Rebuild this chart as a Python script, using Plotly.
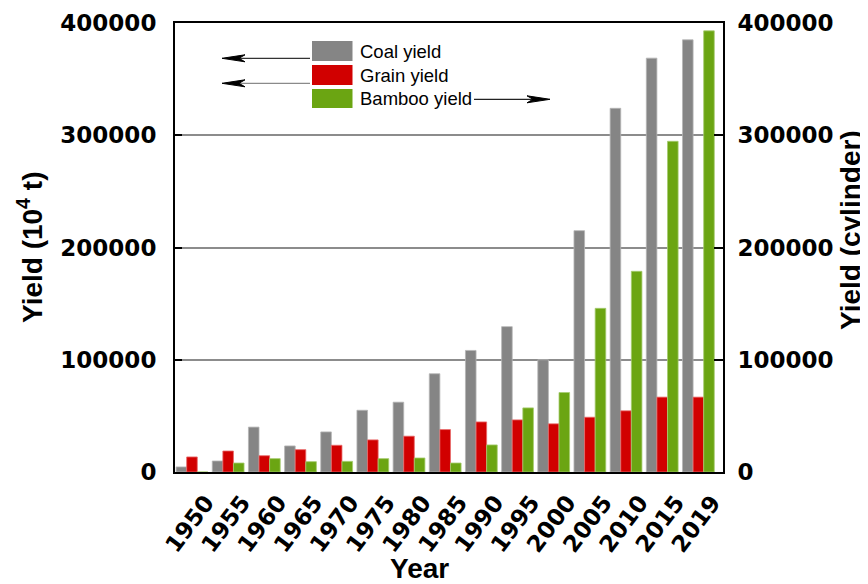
import plotly.graph_objects as go

years = ["1950", "1955", "1960", "1965", "1970", "1975", "1980", "1985",
         "1990", "1995", "2000", "2005", "2010", "2015", "2019"]
coal = [4500, 9800, 40000, 23200, 35700, 55000, 62200, 87500,
        108300, 129500, 100000, 215000, 324000, 368700, 385000]
grain = [13400, 18700, 14500, 19900, 23800, 28600, 31900, 37800,
         44600, 46400, 42900, 48800, 54500, 66700, 66700]
bamboo = [0, 8000, 11900, 9200, 9500, 11900, 12500, 8000,
          24100, 57100, 70800, 145800, 178800, 294600, 393000]
y_ticks = [0, 100000, 200000, 300000, 400000]

series_names = ["Coal yield", "Grain yield", "Bamboo yield"]
colors = ["#858585", "#d10000", "#6ba512"]
edge_colors = ["#b5b5b5", "#e86a6a", "#a6cc70"]

# page offset of the plot div (default body margin)
OX, OY = 8, 8
W, H = 868 - OX, 584 - OY
# plot area in page pixels
L, R, T, B = 175, 723, 23, 472


def px_x(p):
    return (p - L) / (R - L)


def px_y(p):
    return (B - p) / (B - T)


idx = list(range(len(years)))
bw = 0.293
offsets = [-0.44, -0.147, 0.146]

fig = go.Figure()
for name, vals, col, ecol, off, ax in zip(series_names, [coal, grain, bamboo], colors,
                                          edge_colors, offsets, ["y", "y", "y2"]):
    fig.add_trace(go.Bar(x=idx, y=vals, name=name, width=bw, offset=off,
                         marker=dict(color=col, line=dict(color=ecol, width=0.8)),
                         yaxis=ax, showlegend=False))

tickfont_y = dict(family="DejaVu Sans", size=23, color="black", weight="bold")

fig.update_layout(
    width=W, height=H,
    margin=dict(l=L - OX, r=W - (R - OX), t=T - OY, b=H - (B - OY), autoexpand=False),
    plot_bgcolor="white", paper_bgcolor="white",
    barmode="overlay",
    xaxis=dict(range=[-0.47, 14.68], tickvals=idx, ticktext=years, tickangle=-53,
               showline=True, linecolor="black", linewidth=2, mirror=True,
               ticks="", showgrid=False, zeroline=False,
               ticklabelshift=14, ticklabelstandoff=6,
               tickfont=dict(family="DejaVu Sans", size=23, color="black", weight="bold")),
    yaxis=dict(range=[0, 400000], tickvals=y_ticks, tickformat="d",
               ticks="inside", ticklen=7, tickwidth=2, tickcolor="black",
               showline=True, linecolor="black", linewidth=2,
               showgrid=True, gridcolor="#8c8c8c", gridwidth=2, zeroline=False,
               ticklabelstandoff=12, tickfont=tickfont_y),
    yaxis2=dict(range=[0, 400000], tickvals=y_ticks, tickformat="d", overlaying="y",
                side="right", ticks="inside", ticklen=9, tickwidth=2, tickcolor="black",
                showline=True, linecolor="black", linewidth=2,
                showgrid=False, zeroline=False, ticklabelstandoff=8, tickfont=tickfont_y),
)

title_font = dict(family="Liberation Sans, Arial", size=28, color="black", weight="bold")
fig.add_annotation(text="Year", x=px_x(419), y=px_y(568), xref="paper", yref="paper",
                   showarrow=False, font=title_font, xanchor="center", yanchor="middle")
fig.add_annotation(text="Yield (10<sup>4</sup> t)", x=px_x(30), y=px_y(248), xref="paper",
                   yref="paper", showarrow=False, font=title_font, textangle=-90,
                   xanchor="center", yanchor="middle")
fig.add_annotation(text="Yield (cylinder)", x=px_x(850), y=px_y(230), xref="paper",
                   yref="paper", showarrow=False, font=title_font, textangle=-90,
                   xanchor="center", yanchor="middle")

# legend
rows = [(41, 61), (65, 85), (89, 108)]
for name, col, (y0, y1) in zip(series_names, colors, rows):
    fig.add_shape(type="rect", xref="paper", yref="paper",
                  x0=px_x(312), x1=px_x(352.5), y0=px_y(y1), y1=px_y(y0),
                  fillcolor=col, line=dict(width=0))
    fig.add_annotation(text=name, x=px_x(358), y=px_y((y0 + y1) / 2), xref="paper",
                       yref="paper", showarrow=False, xanchor="left", yanchor="middle",
                       font=dict(family="Liberation Sans, Arial", size=18.5, color="black"))


def arrow(x_start, tip, y, lcolor):
    d = 1 if tip > x_start else -1
    back = tip - d * 23
    notch = tip - d * 17
    fig.add_shape(type="line", xref="paper", yref="paper",
                  x0=px_x(x_start), x1=px_x(notch), y0=px_y(y), y1=px_y(y),
                  line=dict(color=lcolor, width=1.3))
    path = (f"M {px_x(tip)},{px_y(y)} L {px_x(back)},{px_y(y - 3.5)} "
            f"L {px_x(notch)},{px_y(y)} L {px_x(back)},{px_y(y + 3.5)} Z")
    fig.add_shape(type="path", xref="paper", yref="paper", path=path,
                  fillcolor="black", line=dict(color="black", width=1))


arrow(310, 222, 58.3, "#333333")
arrow(310, 222, 83.3, "#8a8a8a")
arrow(474, 550, 99.3, "#222222")

fig.write_html("out.html")
